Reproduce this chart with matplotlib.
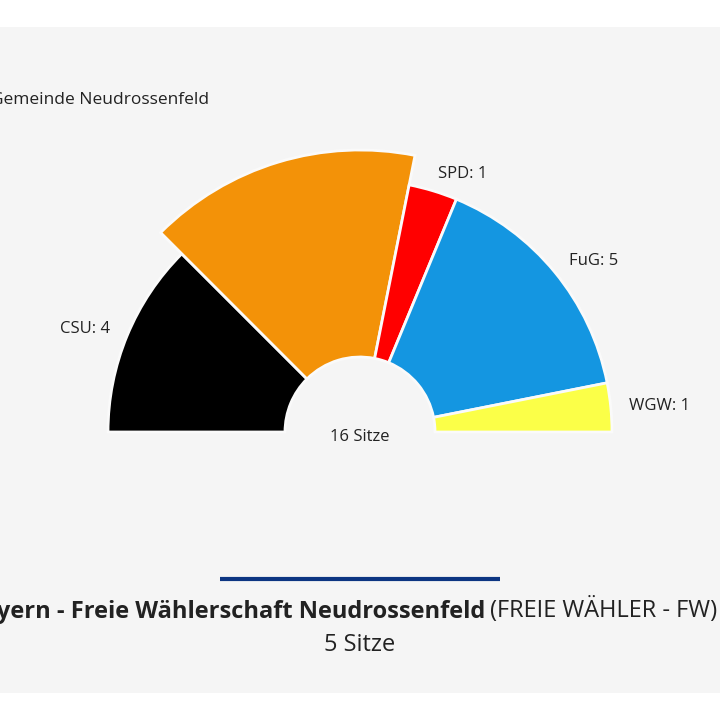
import matplotlib.pyplot as plt
from matplotlib.patches import Wedge, Rectangle
from matplotlib import font_manager
import numpy as np

plt.rcParams['font.family'] = ['Open Sans', 'DejaVu Sans']

parties = ['CSU', 'FW', 'SPD', 'FuG', 'WGW']
seats = [4, 5, 1, 5, 1]
colors = ['#000000', '#f39208', '#ff0000', '#1496e1', '#fbff48']
show_label = [True, False, True, True, True]
highlight = 'FW'

title = 'Gemeinde Neudrossenfeld'
center_text = '16 Sitze'
detail_bold = 'FREIE WÄHLER Bayern - Freie Wählerschaft Neudrossenfeld'
detail_normal = '(FREIE WÄHLER - FW)'
detail_seats = '5 Sitze'

# narrow font for the detail line if there is one
names = {f.name for f in font_manager.fontManager.ttflist}
narrow = ['Liberation Sans Narrow', 'DejaVu Sans'] if 'Liberation Sans Narrow' in names else ['Open Sans', 'DejaVu Sans']

fig = plt.figure(figsize=(7.2, 7.2), dpi=100)
ax = fig.add_axes([0, 0, 1, 1])
ax.set_xlim(0, 720)
ax.set_ylim(0, 720)
ax.axis('off')

# grey panel
ax.add_patch(Rectangle((0, 27), 720, 666, facecolor='#f5f5f5', edgecolor='none', zorder=0))

cx, cy = 360, 288
r_in, r_out = 75, 252
total = sum(seats)
start = 180.0
for name, n, col, lab in zip(parties, seats, colors, show_label):
    span = 180.0 * n / total
    end = start - span
    r = 282 if name == highlight else r_out
    ax.add_patch(Wedge((cx, cy), r, end, start, width=r - r_in,
                       facecolor=col, edgecolor='#fafafa', linewidth=2, zorder=2))
    if lab:
        mid = np.radians((start + end) / 2)
        lx = cx + 270 * np.cos(mid)
        ly = cy + 270 * np.sin(mid)
        ha = 'left' if np.cos(mid) > 0 else 'right'
        ax.text(lx, ly, f'{name}: {n}', ha=ha, va='center', fontsize=12, color='#222222', zorder=3)
    start = end

ax.text(cx, 283, center_text, ha='center', va='center', fontsize=12, color='#222222', zorder=3)
ax.text(209, 620, title, ha='right', va='center', fontsize=12.5, color='#222222')

ax.plot([220, 500], [141, 141], color='#0c3582', linewidth=3, solid_capstyle='butt')
ax.text(485, 110, detail_bold, ha='right', va='center', fontsize=17, fontweight='bold',
        color='#222222', family=narrow)
ax.text(490, 110, detail_normal, ha='left', va='center', fontsize=17, color='#222222', family=narrow)
ax.text(360, 75, detail_seats, ha='center', va='center', fontsize=17, color='#222222', family=narrow)

fig.savefig('out.png', dpi=100, facecolor='white')
